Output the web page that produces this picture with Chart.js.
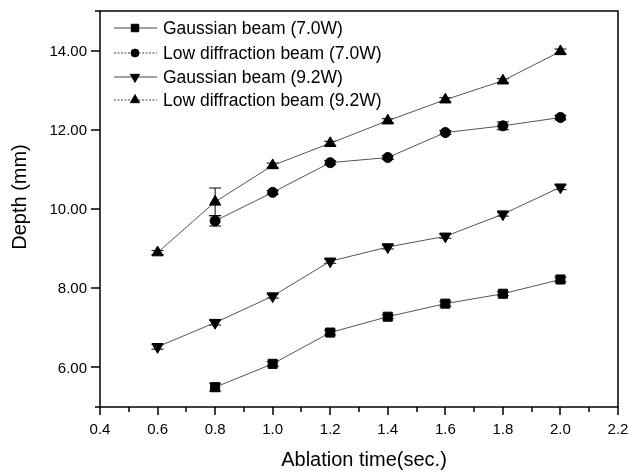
<!DOCTYPE html>
<html>
<head>
<meta charset="utf-8">
<script src="https://cdn.jsdelivr.net/npm/chart.js@4/dist/chart.umd.min.js"></script>
<style>
  body { margin: 0; background: #fff; }
  canvas { display: block; }
</style>
</head>
<body>
<canvas id="myChart" width="629" height="472"></canvas>
<script>
// data
var ablationTime = [0.6, 0.8, 1.0, 1.2, 1.4, 1.6, 1.8, 2.0];
var gauss70 = [null, 5.50, 6.09, 6.88, 7.28, 7.61, 7.86, 8.22];
var lowDiff70 = [null, 9.70, 10.42, 11.17, 11.30, 11.93, 12.10, 12.31];
var gauss92 = [6.52, 7.13, 7.80, 8.68, 9.04, 9.31, 9.87, 10.55];
var lowDiff92 = [8.90, 10.18, 11.10, 11.66, 12.23, 12.76, 13.24, 13.98];

// error bar half heights
var gauss70Err = [null, 0.10, 0.06, 0.06, 0.05, 0.06, 0.05, 0.06];
var lowDiff70Err = [null, 0.13, 0.05, 0.05, 0.05, 0.05, 0.10, 0.06];
var gauss92Err = [0.06, 0.06, 0.05, 0.05, 0.05, 0.05, 0.05, 0.06];
var lowDiff92Err = [0.05, 0.35, 0.06, 0.05, 0.05, 0.05, 0.05, 0.06];

var seriesNames = ["Gaussian beam (7.0W)", "Low diffraction beam (7.0W)", "Gaussian beam (9.2W)", "Low diffraction beam (9.2W)"];
var xTickValues = [0.4, 0.6, 0.8, 1.0, 1.2, 1.4, 1.6, 1.8, 2.0, 2.2];
var yTickValues = [6, 8, 10, 12, 14];
var xAxisTitle = "Ablation time(sec.)";
var yAxisTitle = "Depth (mm)";

var FONT = "'Liberation Sans', Arial, sans-serif";

function makePoints(ys){
    var pts = [];
    for(var i = 0; i < ablationTime.length; i++){
        if(ys[i] !== null){
            pts.push({x: ablationTime[i], y: ys[i]});
        }
    }
    return pts;
}

function makeDataset(idx, ys, errs, style, rot, radius, dashed){
    return {
        label: seriesNames[idx],
        data: makePoints(ys),
        errs: errs,
        showLine: true,
        borderColor: '#555',
        borderWidth: 1,
        backgroundColor: '#000',
        pointBackgroundColor: '#000',
        pointBorderColor: '#000',
        pointBorderWidth: 1,
        pointStyle: style,
        pointRotation: rot,
        pointRadius: radius,
        legendDash: dashed
    };
}

// error bars, drawn under the markers
var errorBars = {
    id: 'errorBars',
    beforeDatasetsDraw: function(chart){
        var ctx = chart.ctx;
        var xs = chart.scales.x, ys = chart.scales.y;
        ctx.save();
        ctx.strokeStyle = '#000';
        ctx.lineWidth = 1;
        chart.data.datasets.forEach(function(ds){
            var k = 0;
            for(var i = 0; i < ablationTime.length; i++){
                if(ds.errs[i] === null) continue;
                var p = ds.data[k++];
                var px = xs.getPixelForValue(p.x);
                var top = ys.getPixelForValue(p.y + ds.errs[i]);
                var bot = ys.getPixelForValue(p.y - ds.errs[i]);
                ctx.beginPath();
                ctx.moveTo(px, top); ctx.lineTo(px, bot);
                ctx.moveTo(px - 6, top); ctx.lineTo(px + 6, top);
                ctx.moveTo(px - 6, bot); ctx.lineTo(px + 6, bot);
                ctx.stroke();
            }
        });
        ctx.restore();
    }
};

// frame, tick marks, tick labels, axis titles and legend
var frame = {
    id: 'frame',
    afterDraw: function(chart){
        var ctx = chart.ctx;
        var a = chart.chartArea;
        var xs = chart.scales.x, ys = chart.scales.y;
        ctx.save();
        ctx.strokeStyle = '#000';
        ctx.lineWidth = 1.5;
        ctx.strokeRect(a.left, a.top, a.right - a.left, a.bottom - a.top);

        ctx.beginPath();
        for(var i = 0; i < xTickValues.length; i++){
            var px = Math.round(xs.getPixelForValue(xTickValues[i]));
            ctx.moveTo(px, a.bottom); ctx.lineTo(px, a.bottom + 8);
            if(i < xTickValues.length - 1){
                var mx = Math.round(xs.getPixelForValue((xTickValues[i] + xTickValues[i + 1]) / 2));
                ctx.moveTo(mx, a.bottom); ctx.lineTo(mx, a.bottom + 5);
            }
        }
        var yAll = [5].concat(yTickValues).concat([15]);
        for(var j = 0; j < yAll.length; j++){
            var py = Math.round(ys.getPixelForValue(yAll[j]));
            var len = (yAll[j] % 2 === 0) ? 9 : 5;
            ctx.moveTo(a.left, py); ctx.lineTo(a.left - len, py);
        }
        ctx.stroke();

        // tick labels
        ctx.fillStyle = '#000';
        ctx.textBaseline = 'middle';
        ctx.font = "15px " + FONT;
        ctx.textAlign = 'center';
        xTickValues.forEach(function(v){
            ctx.fillText(v.toFixed(1), xs.getPixelForValue(v), a.bottom + 23);
        });
        ctx.textAlign = 'right';
        yTickValues.forEach(function(v){
            ctx.fillText(v.toFixed(2), a.left - 13, ys.getPixelForValue(v) + 1);
        });

        // axis titles
        ctx.textAlign = 'center';
        ctx.font = "20px " + FONT;
        ctx.fillText(xAxisTitle, 364, 460);
        ctx.save();
        ctx.translate(20, 197);
        ctx.rotate(-Math.PI / 2);
        ctx.font = "20px " + FONT;
        ctx.fillText(yAxisTitle, 0, 0);
        ctx.restore();

        // legend
        var rows = [28, 53, 77, 100];
        chart.data.datasets.forEach(function(ds, n){
            var ry = rows[n];
            ctx.strokeStyle = '#444';
            ctx.lineWidth = 1;
            ctx.setLineDash(ds.legendDash ? [2, 1.5] : []);
            ctx.beginPath();
            ctx.moveTo(114, ry); ctx.lineTo(157, ry);
            ctx.stroke();
            ctx.setLineDash([]);
            ctx.fillStyle = '#000';
            Chart.helpers.drawPoint(ctx, {
                pointStyle: ds.pointStyle,
                rotation: ds.pointRotation,
                radius: ds.pointRadius - 1,
                borderWidth: 1
            }, 135, ry);
            ctx.fill();
            ctx.textAlign = 'left';
            ctx.font = "17.5px " + FONT;
            ctx.fillText(ds.label, 163, ry + 1);
        });
        ctx.restore();
    }
};

var ctx1 = document.getElementById('myChart').getContext('2d');
var chart1 = new Chart(ctx1, {
    type: 'scatter',
    data: {
        datasets: [
            makeDataset(0, gauss70, gauss70Err, 'rect', 0, 6.4, false),
            makeDataset(1, lowDiff70, lowDiff70Err, 'circle', 0, 5, true),
            makeDataset(2, gauss92, gauss92Err, 'triangle', 180, 6.5, false),
            makeDataset(3, lowDiff92, lowDiff92Err, 'triangle', 0, 6.5, true)
        ]
    },
    options: {
        responsive: false,
        animation: false,
        devicePixelRatio: 1,
        layout: { padding: { left: 0, top: 11, right: 11, bottom: 0 } },
        plugins: {
            legend: { display: false },
            tooltip: { enabled: false }
        },
        scales: {
            x: {
                type: 'linear',
                min: 0.4,
                max: 2.2,
                afterFit: function(s){ s.height = 65; },
                afterBuildTicks: function(s){
                    s.ticks = xTickValues.map(function(v){ return {value: v}; });
                },
                grid: { display: false },
                border: { display: false },
                ticks: { display: false }
            },
            y: {
                type: 'linear',
                min: 5,
                max: 15,
                afterFit: function(s){ s.width = 100; },
                afterBuildTicks: function(s){
                    s.ticks = yTickValues.map(function(v){ return {value: v}; });
                },
                grid: { display: false },
                border: { display: false },
                ticks: { display: false }
            }
        }
    },
    plugins: [errorBars, frame]
});
</script>
</body>
</html>
